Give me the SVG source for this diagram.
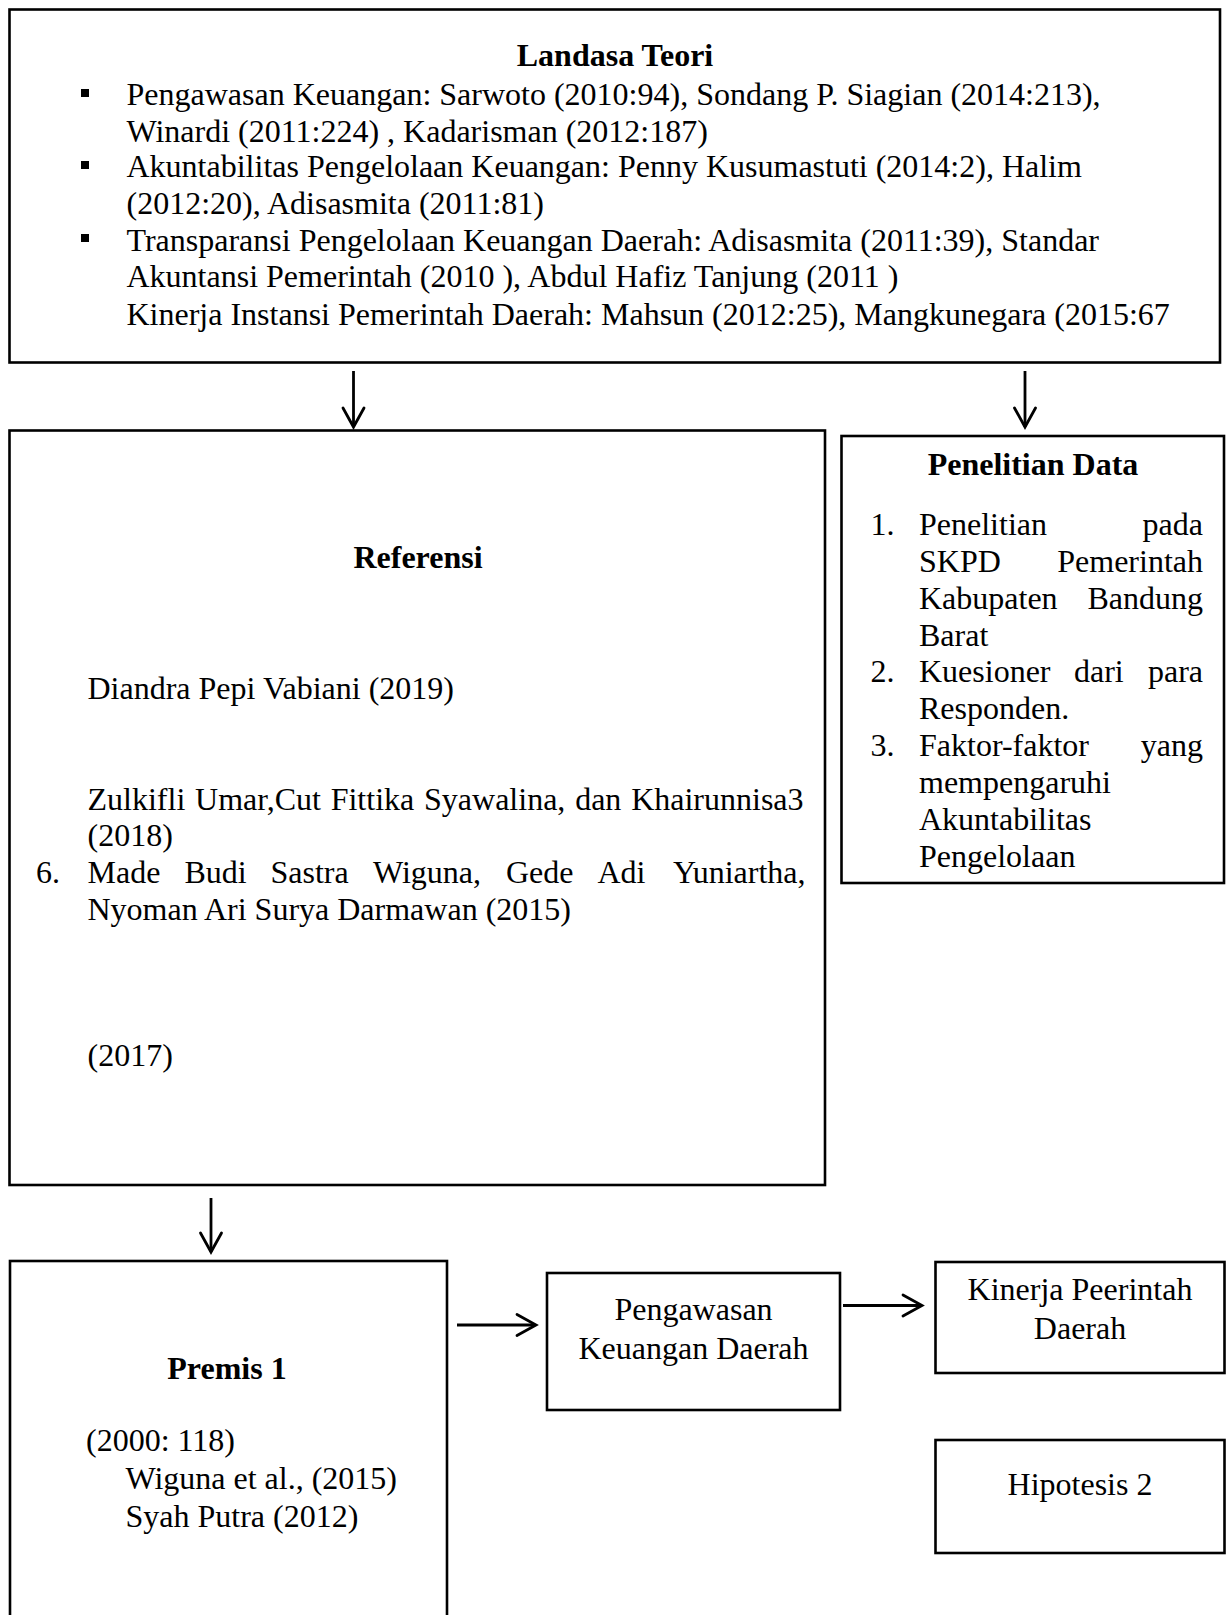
<svg xmlns="http://www.w3.org/2000/svg" width="1230" height="1615" viewBox="0 0 1230 1615">
<style>
  .box { fill: #fff; stroke: #000; stroke-width: 2.6; }
  .t { font-family: "Liberation Serif", "Times New Roman", serif; font-size: 32px; fill: #000; }
  .b { font-weight: bold; }
  .c { text-anchor: middle; }
  .e { text-anchor: end; }
  .conn { stroke: #000; stroke-width: 2.8; fill: none; }
  .head { stroke: #000; stroke-width: 2.8; fill: none; stroke-linecap: round; stroke-linejoin: miter; }
</style>
<rect width="1230" height="1615" fill="#fff"/>

<g id="landasa-teori">
  <rect class="box" x="9.5" y="9.5" width="1210.5" height="353"/>
  <text class="t b c" x="615" y="66">Landasa Teori</text>
  <rect x="81" y="89" width="8" height="8" fill="#000"/>
  <text class="t" x="126.5" y="105">Pengawasan Keuangan: Sarwoto (2010:94), Sondang P. Siagian (2014:213),</text>
  <text class="t" x="126.5" y="141.5">Winardi (2011:224) , Kadarisman (2012:187)</text>
  <rect x="81" y="161" width="8" height="8" fill="#000"/>
  <text class="t" x="126.5" y="177">Akuntabilitas Pengelolaan Keuangan: Penny Kusumastuti (2014:2), Halim</text>
  <text class="t" x="126.5" y="213.5">(2012:20), Adisasmita (2011:81)</text>
  <rect x="81" y="234" width="8" height="8" fill="#000"/>
  <text class="t" x="126.5" y="250.5">Transparansi Pengelolaan Keuangan Daerah: Adisasmita (2011:39), Standar</text>
  <text class="t" x="126.5" y="287">Akuntansi Pemerintah (2010 ), Abdul Hafiz Tanjung (2011 )</text>
  <text class="t" x="126.5" y="324.5">Kinerja Instansi Pemerintah Daerah: Mahsun (2012:25), Mangkunegara (2015:67</text>
</g>

<g id="referensi">
  <rect class="box" x="9.5" y="430.5" width="815.5" height="754.5"/>
  <text class="t b c" x="418" y="568">Referensi</text>
  <text class="t" x="87.5" y="698.5">Diandra Pepi Vabiani (2019)</text>
  <text class="t" x="87.5" y="810" word-spacing="1.8">Zulkifli Umar,Cut Fittika Syawalina, dan Khairunnisa3</text>
  <text class="t" x="87.5" y="846">(2018)</text>
  <text class="t" x="36" y="883">6.</text>
  <text class="t" x="87.5" y="883">Made</text>
  <text class="t" x="184.5" y="883">Budi</text>
  <text class="t" x="270.5" y="883">Sastra</text>
  <text class="t" x="373" y="883">Wiguna,</text>
  <text class="t" x="506" y="883">Gede</text>
  <text class="t" x="597.5" y="883">Adi</text>
  <text class="t e" x="805.5" y="883">Yuniartha,</text>
  <text class="t" x="87.5" y="920">Nyoman Ari Surya Darmawan (2015)</text>
  <text class="t" x="87.5" y="1066">(2017)</text>
</g>

<g id="penelitian-data">
  <rect class="box" x="841.5" y="436" width="382.5" height="447"/>
  <text class="t b c" x="1033" y="475">Penelitian Data</text>
  <text class="t" x="870.5" y="535">1.</text>
  <text class="t" x="919" y="535">Penelitian</text>
  <text class="t e" x="1203" y="535">pada</text>
  <text class="t" x="919" y="572">SKPD</text>
  <text class="t e" x="1203" y="572">Pemerintah</text>
  <text class="t" x="919" y="609">Kabupaten</text>
  <text class="t e" x="1203" y="609">Bandung</text>
  <text class="t" x="919" y="646">Barat</text>
  <text class="t" x="870.5" y="682">2.</text>
  <text class="t" x="919" y="682">Kuesioner</text>
  <text class="t" x="1074" y="682">dari</text>
  <text class="t e" x="1203" y="682">para</text>
  <text class="t" x="919" y="719">Responden.</text>
  <text class="t" x="870.5" y="756">3.</text>
  <text class="t" x="919" y="756">Faktor-faktor</text>
  <text class="t e" x="1203" y="756">yang</text>
  <text class="t" x="919" y="793">mempengaruhi</text>
  <text class="t" x="919" y="830">Akuntabilitas</text>
  <text class="t" x="919" y="867">Pengelolaan</text>
</g>

<g id="premis-1">
  <rect class="box" x="10" y="1261" width="437" height="380"/>
  <text class="t b c" x="227" y="1379">Premis 1</text>
  <text class="t" x="86" y="1451">(2000: 118)</text>
  <text class="t" x="125.5" y="1489">Wiguna et al., (2015)</text>
  <text class="t" x="125.5" y="1527">Syah Putra (2012)</text>
</g>

<g id="pengawasan">
  <rect class="box" x="547" y="1273" width="293" height="137"/>
  <text class="t c" x="693.5" y="1320">Pengawasan</text>
  <text class="t c" x="693.5" y="1359">Keuangan Daerah</text>
</g>

<g id="kinerja">
  <rect class="box" x="935.5" y="1262" width="289" height="111"/>
  <text class="t c" x="1080" y="1300">Kinerja Peerintah</text>
  <text class="t c" x="1080" y="1339">Daerah</text>
</g>

<g id="hipotesis-2">
  <rect class="box" x="935.5" y="1440" width="289" height="113"/>
  <text class="t c" x="1080" y="1495">Hipotesis 2</text>
</g>

<g id="connectors">
  <line class="conn" x1="353.5" y1="371" x2="353.5" y2="427"/>
  <polyline class="head" points="343,408 353.5,427 364,408"/>
  <line class="conn" x1="1025" y1="371" x2="1025" y2="427"/>
  <polyline class="head" points="1014.5,408 1025,427 1035.5,408"/>
  <line class="conn" x1="211" y1="1198" x2="211" y2="1252"/>
  <polyline class="head" points="200.5,1233 211,1252 221.5,1233"/>
  <line class="conn" x1="457" y1="1325" x2="535" y2="1325"/>
  <polyline class="head" points="517,1314.5 536,1325 517,1335.5"/>
  <line class="conn" x1="843" y1="1305.5" x2="921" y2="1305.5"/>
  <polyline class="head" points="903,1295 922,1305.5 903,1316"/>
</g>
</svg>
